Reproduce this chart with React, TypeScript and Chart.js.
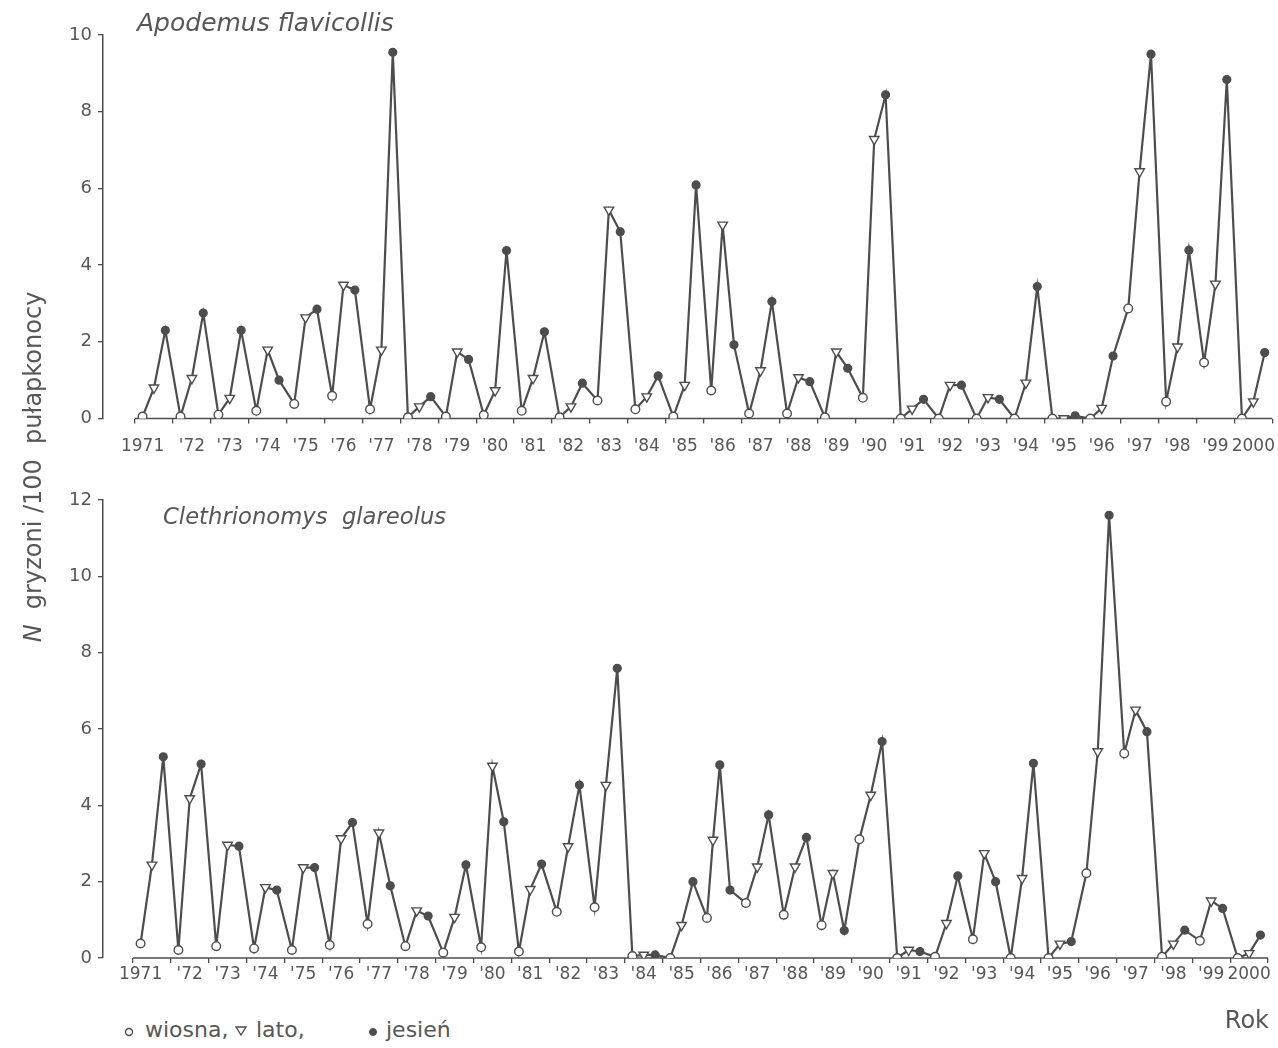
import React, { useEffect, useRef } from 'react';
import { Chart, registerables } from 'chart.js';

Chart.register(...registerables);

// ---------- data ----------
const years = [
  1971, 1972, 1973, 1974, 1975, 1976, 1977, 1978, 1979, 1980,
  1981, 1982, 1983, 1984, 1985, 1986, 1987, 1988, 1989, 1990,
  1991, 1992, 1993, 1994, 1995, 1996, 1997, 1998, 1999, 2000,
];
const yearLabels = [
  '1971', "'72", "'73", "'74", "'75", "'76", "'77", "'78", "'79", "'80",
  "'81", "'82", "'83", "'84", "'85", "'86", "'87", "'88", "'89", "'90",
  "'91", "'92", "'93", "'94", "'95", "'96", "'97", "'98", "'99", '2000',
];

// Apodemus flavicollis
const springA = [
  0.05, 0.05, 0.1, 0.2, 0.38, 0.59, 0.24, 0.03, 0.05, 0.09,
  0.2, 0.03, 0.47, 0.24, 0.05, 0.73, 0.13, 0.13, 0.03, 0.54,
  0.0, 0.0, 0.0, 0.0, 0.0, 0.0, 2.87, 0.44, 1.46, 0.0,
];
const summerA = [
  0.8, 1.05, 0.53, 1.79, 2.63, 3.48, 1.79, 0.31, 1.74, 0.73,
  1.05, 0.31, 5.44, 0.57, 0.87, 5.05, 1.25, 1.07, 1.74, 7.28,
  0.25, 0.87, 0.55, 0.93, 0.0, 0.27, 6.44, 1.87, 3.51, 0.44,
];
const autumnA = [
  2.3, 2.75, 2.3, 1.0, 2.85, 3.35, 9.55, 0.57, 1.54, 4.38,
  2.26, 0.92, 4.87, 1.11, 6.09, 1.92, 3.05, 0.96, 1.31, 8.44,
  0.5, 0.87, 0.5, 3.44, 0.07, 1.63, 9.5, 4.39, 8.84, 1.72,
];
const extraA: { year: number; value: number }[] = [];

// Clethrionomys glareolus
const springC = [
  0.38, 0.21, 0.31, 0.25, 0.21, 0.34, 0.89, 0.31, 0.14, 0.28,
  0.17, 1.21, 1.33, 0.05, 0.0, 1.05, 1.44, 1.13, 0.86, 3.11,
  0.0, 0.03, 0.49, 0.0, 0.0, 2.22, 5.36, 0.03, 0.45, 0.0,
];
const summerC = [
  2.44, 4.18, 2.96, 1.85, 2.37, 3.13, 3.28, 1.24, 1.07, 5.03,
  1.8, 2.92, 4.53, 0.08, 0.86, 3.09, 2.39, 2.39, 2.22, 4.27,
  0.21, 0.91, 2.74, 2.09, 0.37, 5.41, 6.5, 0.37, 1.5, 0.12,
];
const autumnC = [
  5.27, 5.08, 2.93, 1.78, 2.37, 3.55, 1.89, 1.1, 2.44, 3.57,
  2.46, 4.53, 7.59, 0.08, 2.0, 5.06, 3.75, 3.16, 0.72, 5.67,
  0.17, 2.15, 2.0, 5.1, 0.43, 11.6, 5.93, 0.73, 1.3, 0.6,
];
// second autumn sample
const extraC = [{ year: 1986, value: 1.78 }];

// ---------- styling ----------
const INK = '#4d4d4d';
const TEXT = '#575757';
const FONT = "'DejaVu Sans', 'Liberation Sans', sans-serif";

type Kind = 'spring' | 'summer' | 'autumn';

function buildSeries(
  spring: number[],
  summer: number[],
  autumn: number[],
  extras: { year: number; value: number }[]
) {
  const pts: { x: number; y: number }[] = [];
  const kinds: Kind[] = [];
  years.forEach((yr, i) => {
    const ex = extras.find((e) => e.year === yr);
    const offs = ex ? [0.17, 0.33, 0.51] : [0.2, 0.5, 0.8];
    pts.push({ x: yr + offs[0], y: spring[i] });
    kinds.push('spring');
    pts.push({ x: yr + offs[1], y: summer[i] });
    kinds.push('summer');
    pts.push({ x: yr + offs[2], y: autumn[i] });
    kinds.push('autumn');
    if (ex) {
      pts.push({ x: yr + 0.78, y: ex.value });
      kinds.push('autumn');
    }
  });
  return {
    data: pts,
    borderColor: INK,
    borderWidth: 2.2,
    tension: 0,
    pointStyle: kinds.map((k) => (k === 'summer' ? 'triangle' : 'circle')),
    pointRotation: kinds.map((k) => (k === 'summer' ? 180 : 0)),
    pointRadius: kinds.map((k) => (k === 'summer' ? 5.5 : k === 'spring' ? 4.3 : 3.9)),
    pointBackgroundColor: kinds.map((k) => (k === 'autumn' ? INK : '#ffffff')),
    pointBorderColor: INK,
    pointBorderWidth: 1.4,
  };
}

// tick marks at year boundaries, labels between them (first label sits a bit left)
const labelValues = years.map((y, i) => (i === 0 ? y + 0.2 : y + 0.5));
const tickValues: number[] = [];
years.forEach((y, i) => {
  tickValues.push(y);
  tickValues.push(labelValues[i]);
});
tickValues.push(2001);

const isBoundary = (v: number) => Math.abs(v - Math.round(v)) < 1e-6;

const baselinePlugin = {
  id: 'baseline',
  beforeDatasetsDraw(chart: any) {
    const { ctx, scales } = chart;
    const x = scales.x;
    const y = scales.y;
    const yy = y.getPixelForValue(0);
    ctx.save();
    ctx.strokeStyle = INK;
    ctx.lineWidth = 1.5;
    ctx.beginPath();
    ctx.moveTo(x.getPixelForValue(1971), yy);
    ctx.lineTo(x.getPixelForValue(2001), yy);
    ctx.stroke();
    ctx.restore();
  },
};

function makeConfig(
  series: any,
  yMax: number,
  xMin: number,
  padTop: number,
  padRight: number,
  xAxisHeight: number,
  labelLineHeight: number
): any {
  return {
    type: 'line',
    data: { datasets: [series] },
    plugins: [baselinePlugin],
    options: {
      animation: false,
      responsive: false,
      maintainAspectRatio: false,
      layout: { padding: { top: padTop, right: padRight, left: 0, bottom: 0 } },
      plugins: { legend: { display: false }, tooltip: { enabled: false } },
      scales: {
        x: {
          type: 'linear',
          min: xMin,
          max: 2001,
          afterBuildTicks: (scale: any) => {
            scale.ticks = tickValues.map((v) => ({ value: v }));
          },
          afterFit: (scale: any) => {
            scale.height = xAxisHeight;
          },
          border: { display: false },
          grid: {
            drawOnChartArea: false,
            drawTicks: true,
            tickLength: 5,
            lineWidth: 1.3,
            color: (ctx: any) =>
              ctx.tick && isBoundary(ctx.tick.value) ? INK : 'rgba(0,0,0,0)',
          },
          ticks: {
            autoSkip: false,
            maxRotation: 0,
            minRotation: 0,
            padding: 3,
            color: TEXT,
            font: { family: FONT, size: 17, lineHeight: labelLineHeight },
            callback: (v: number) => {
              if (isBoundary(v)) return '';
              const idx = labelValues.findIndex((l) => Math.abs(l - v) < 1e-6);
              return idx >= 0 ? yearLabels[idx] : '';
            },
          },
        },
        y: {
          min: 0,
          max: yMax,
          afterFit: (scale: any) => {
            scale.width = 103;
          },
          border: { display: true, color: INK, width: 1.5 },
          grid: {
            drawOnChartArea: false,
            drawTicks: true,
            tickLength: 5,
            color: INK,
            lineWidth: 1.3,
          },
          ticks: {
            stepSize: 2,
            padding: 6,
            color: TEXT,
            font: { family: FONT, size: 18 },
          },
        },
      },
    },
  };
}

function ChartCanvas({
  config,
  top,
  height,
}: {
  config: any;
  top: number;
  height: number;
}) {
  const ref = useRef<HTMLCanvasElement | null>(null);
  useEffect(() => {
    if (!ref.current) return;
    const chart = new Chart(ref.current, config);
    return () => chart.destroy();
  }, [config]);
  return (
    <canvas
      ref={ref}
      width={1278}
      height={height}
      style={{ position: 'absolute', left: 0, top, width: 1278, height, display: 'block' }}
    />
  );
}

const topConfig = makeConfig(buildSeries(springA, summerA, autumnA, extraA), 10, 1970.156, 35, 5, 51.5, 2.35);
const bottomConfig = makeConfig(buildSeries(springC, summerC, autumnC, extraC), 12, 1970.207, 30, 10, 52, 1.0);

const txt: React.CSSProperties = {
  position: 'absolute',
  fontFamily: FONT,
  color: TEXT,
  whiteSpace: 'pre',
  lineHeight: 1,
};

export default function App() {
  return (
    <div
      style={{
        position: 'absolute',
        left: 0,
        top: 0,
        width: 1278,
        height: 1048,
        background: '#ffffff',
        overflow: 'hidden',
      }}
    >
      <ChartCanvas config={topConfig} top={0} height={470} />
      <ChartCanvas config={bottomConfig} top={470} height={540} />

      <div style={{ ...txt, left: 137, top: 10, fontSize: 25, fontStyle: 'italic' }}>
        Apodemus flavicollis
      </div>
      <div style={{ ...txt, left: 163, top: 505, fontSize: 22.7, fontStyle: 'italic' }}>
        {'Clethrionomys  glareolus'}
      </div>

      <div
        style={{
          ...txt,
          left: 33 - 250,
          top: 467 - 12,
          width: 500,
          textAlign: 'center',
          fontSize: 24,
          transform: 'rotate(-90deg)',
          transformOrigin: '50% 50%',
        }}
      >
        <i>N</i>
        {'  gryzoni /100  pułapkonocy'}
      </div>

      <div style={{ ...txt, right: 1278 - 1269, top: 1008, fontSize: 24 }}>Rok</div>

      {/* legend */}
      <svg width={14} height={14} style={{ position: 'absolute', left: 122, top: 1025 }}>
        <circle cx={7} cy={7} r={3.5} fill="#fff" stroke={INK} strokeWidth={1.4} />
      </svg>
      <div style={{ ...txt, left: 145, top: 1019, fontSize: 22 }}>wiosna,</div>
      <svg width={14} height={14} style={{ position: 'absolute', left: 234, top: 1024 }}>
        <polygon points="2,3 12,3 7,11" fill="#fff" stroke={INK} strokeWidth={1.4} />
      </svg>
      <div style={{ ...txt, left: 256, top: 1019, fontSize: 22 }}>lato,</div>
      <svg width={14} height={14} style={{ position: 'absolute', left: 366, top: 1025 }}>
        <circle cx={7} cy={7} r={3.5} fill={INK} stroke={INK} strokeWidth={1} />
      </svg>
      <div style={{ ...txt, left: 386, top: 1019, fontSize: 22 }}>jesień</div>
    </div>
  );
}
